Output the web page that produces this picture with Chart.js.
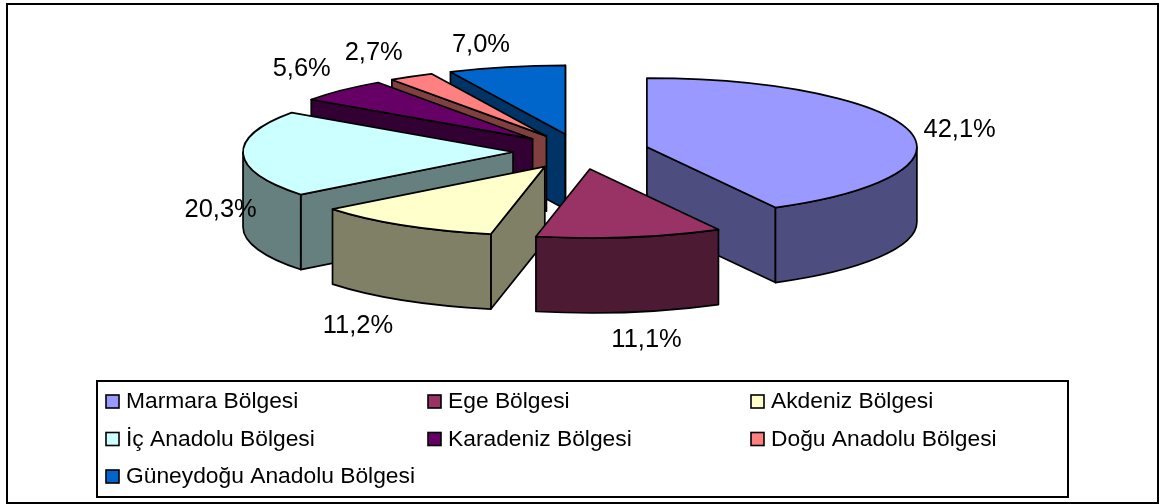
<!DOCTYPE html>
<html>
<head>
<meta charset="utf-8">
<title>Bölgeler</title>
<script src="https://cdn.jsdelivr.net/npm/chart.js@4"></script>
<style>
    html, body { margin: 0; padding: 0; background: #fff; }
    canvas { display: block; }
</style>
</head>
<body>
<canvas id="regionChart" width="1161" height="504"></canvas>
<script>
const regions = ['Marmara Bölgesi', 'Ege Bölgesi', 'Akdeniz Bölgesi', 'İç Anadolu Bölgesi',
    'Karadeniz Bölgesi', 'Doğu Anadolu Bölgesi', 'Güneydoğu Anadolu Bölgesi'];
const shares = [42.1, 11.1, 11.2, 20.3, 5.6, 2.7, 7.0];
const topColors = ['#9999FF', '#993366', '#FFFFCC', '#CCFFFF', '#660066', '#FF8080', '#0066CC'];
const wallColors = ['#4D4D80', '#4D1A33', '#808066', '#668080', '#330033', '#804040', '#003366'];
const explode = [69, 67, 67, 67, 67, 67, 67];
// label shift from the rim of each slice, in pixels
const labelShifts = [[51, 8], [17, 107], [-45, 105.5], [-22.5, 63], [-40, -12], [-37.5, -14], [-25.5, -12]];

const TILT = 0.265;     // how far the explode offset gets squashed
const RIM_TILT = 0.255; // ellipse height / width of the top face
const DEPTH = 75;
const LINE = 1.7;
const FONT = '"Liberation Sans", Arial, sans-serif';

function drawSlice(ctx, arc, i) {
    const {x, y, startAngle, endAngle, outerRadius} = arc.getProps(['x', 'y', 'startAngle', 'endAngle', 'outerRadius'], true);
    const mid = (startAngle + endAngle) / 2;
    const ax = x + arc.options.offset * Math.cos(mid);
    const ay = y + arc.options.offset * TILT * Math.sin(mid);
    const ry = outerRadius * RIM_TILT;
    const rim = a => [ax + outerRadius * Math.cos(a), ay + ry * Math.sin(a)];

    ctx.lineWidth = LINE;
    ctx.lineJoin = 'round';
    ctx.strokeStyle = '#000';
    ctx.fillStyle = wallColors[i];

    // flat walls, only the ones turned to the viewer
    [[startAngle, Math.cos(startAngle) < 0], [endAngle, Math.cos(endAngle) > 0]].forEach(([a, visible]) => {
        if (!visible) return;
        const [px, py] = rim(a);
        ctx.beginPath();
        ctx.moveTo(ax, ay);
        ctx.lineTo(px, py);
        ctx.lineTo(px, py + DEPTH);
        ctx.lineTo(ax, ay + DEPTH);
        ctx.closePath();
        ctx.fill();
        ctx.stroke();
    });

    // curved wall, front half only
    const from = Math.max(startAngle, 0);
    const to = Math.min(endAngle, Math.PI);
    if (to > from) {
        ctx.beginPath();
        ctx.ellipse(ax, ay, outerRadius, ry, 0, from, to);
        ctx.ellipse(ax, ay + DEPTH, outerRadius, ry, 0, to, from, true);
        ctx.closePath();
        ctx.fill();
        ctx.stroke();
    }

    // top face
    ctx.fillStyle = topColors[i];
    ctx.beginPath();
    ctx.moveTo(ax, ay);
    ctx.ellipse(ax, ay, outerRadius, ry, 0, startAngle, endAngle);
    ctx.closePath();
    ctx.fill();
    ctx.stroke();
}

function drawLabel(ctx, arc, i) {
    const {x, y, startAngle, endAngle, outerRadius} = arc.getProps(['x', 'y', 'startAngle', 'endAngle', 'outerRadius'], true);
    const mid = (startAngle + endAngle) / 2;
    const r = outerRadius + arc.options.offset;
    const lx = x + r * Math.cos(mid) + labelShifts[i][0];
    const ly = y + r * TILT * Math.sin(mid) + labelShifts[i][1];
    ctx.fillStyle = '#000';
    ctx.font = '25.5px ' + FONT;
    ctx.textAlign = 'center';
    ctx.textBaseline = 'alphabetic';
    ctx.fillText(shares[i].toFixed(1).replace('.', ',') + '%', lx, ly);
}

const pie3d = {
    id: 'pie3d',
    beforeDatasetsDraw(chart) {
        const ctx = chart.ctx;
        const arcs = chart.getDatasetMeta(0).data;
        const order = arcs.map((arc, i) => i).sort((a, b) =>
            Math.sin((arcs[a].startAngle + arcs[a].endAngle) / 2) - Math.sin((arcs[b].startAngle + arcs[b].endAngle) / 2));
        ctx.save();
        order.forEach(i => drawSlice(ctx, arcs[i], i));
        arcs.forEach((arc, i) => drawLabel(ctx, arc, i));
        ctx.restore();
        return false;
    }
};

// frame and three column legend, the built in legend can't do columns
const frameLegend = {
    id: 'frameLegend',
    afterDraw(chart) {
        const ctx = chart.ctx;
        ctx.save();
        ctx.strokeStyle = '#000';
        ctx.lineWidth = 2;
        ctx.strokeRect(7, 4, 1151, 499);
        ctx.strokeRect(97, 381, 971, 116);
        ctx.font = '22.8px ' + FONT;
        ctx.textAlign = 'left';
        ctx.textBaseline = 'alphabetic';
        const cols = [106, 428, 751];
        const rows = [401.5, 439, 476.5];
        regions.forEach((name, i) => {
            const cx = cols[i % 3];
            const cy = rows[Math.floor(i / 3)];
            ctx.fillStyle = topColors[i];
            ctx.fillRect(cx, cy - 6.5, 13, 13);
            ctx.strokeStyle = '#000';
            ctx.lineWidth = 1.6;
            ctx.strokeRect(cx, cy - 6.5, 13, 13);
            ctx.fillStyle = '#000';
            ctx.fillText(name, cx + 20, cy + 6.5);
        });
        ctx.restore();
    }
};

new Chart(document.getElementById('regionChart'), {
    type: 'pie',
    plugins: [pie3d, frameLegend],
    data: {
        labels: regions,
        datasets: [{
            data: shares,
            backgroundColor: topColors,
            offset: explode
        }]
    },
    options: {
        responsive: false,
        animation: false,
        events: [],
        radius: 270,
        layout: { padding: { left: 0, right: 1, top: 0, bottom: 201 } },
        plugins: {
            legend: { display: false },
            tooltip: { enabled: false }
        }
    }
});
</script>
</body>
</html>
